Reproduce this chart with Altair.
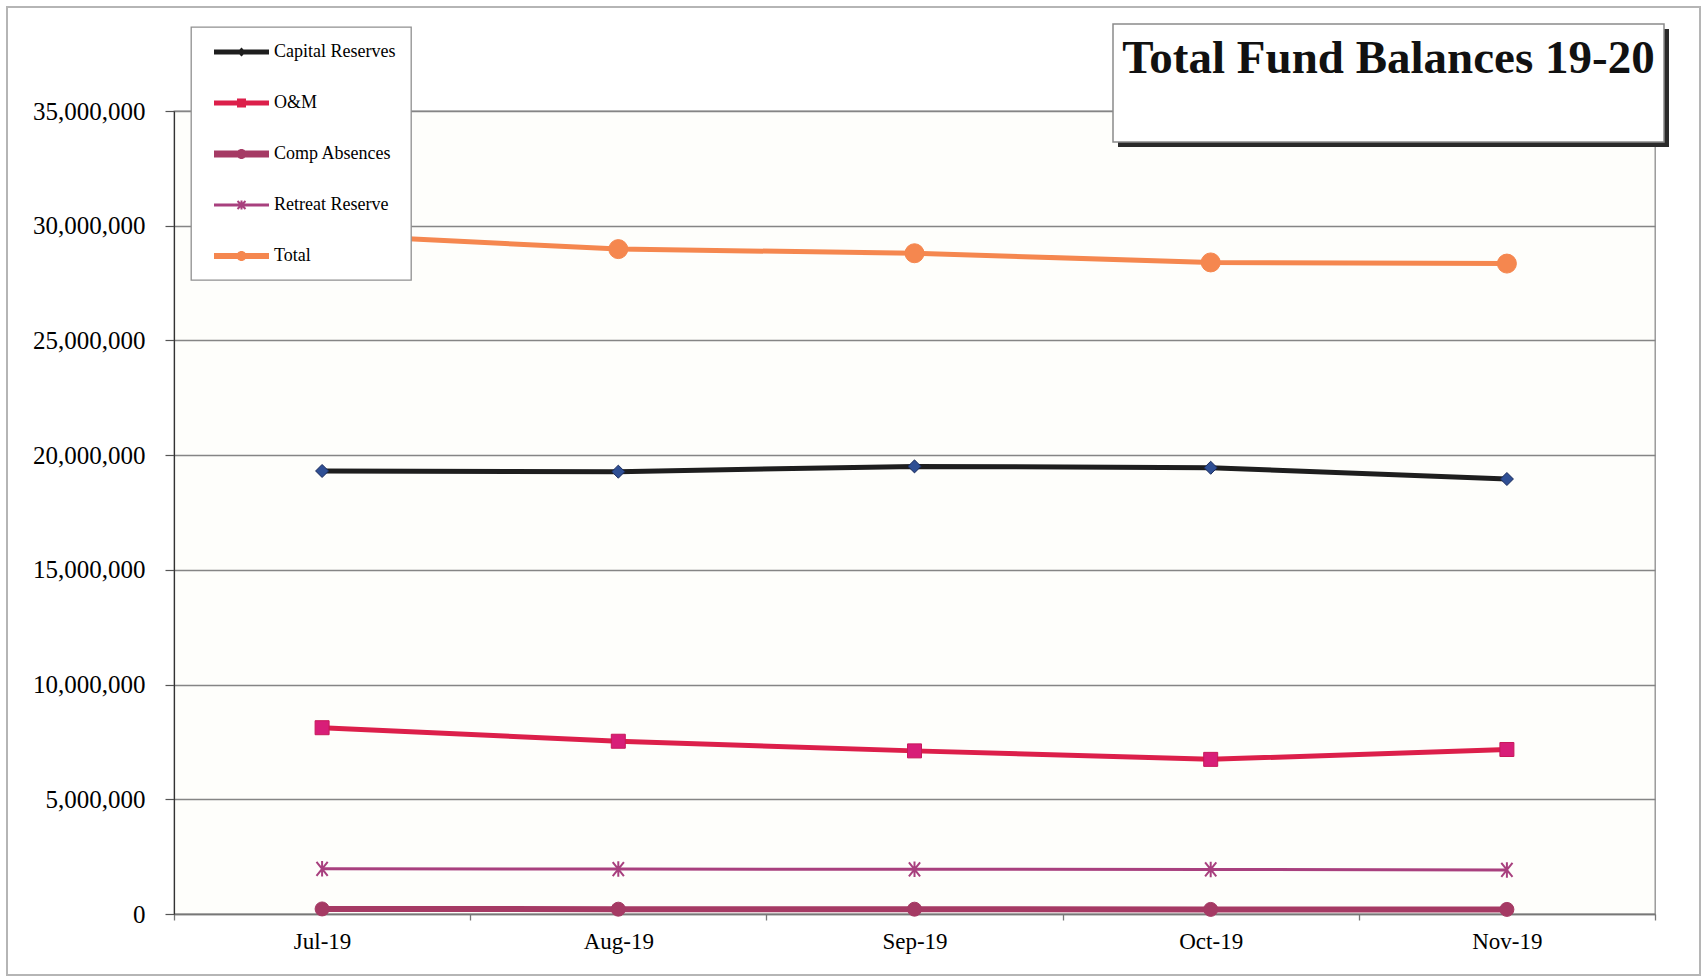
import altair as alt
import pandas as pd

# Monthly fund balances, fiscal year 2019-20
months = ["Jul-19", "Aug-19", "Sep-19", "Oct-19", "Nov-19"]
series_names = ["Capital Reserves", "O&M", "Comp Absences", "Retreat Reserve", "Total"]

capital_reserves = [19_310_000, 19_280_000, 19_510_000, 19_450_000, 18_960_000]
o_and_m = [8_120_000, 7_530_000, 7_110_000, 6_740_000, 7_170_000]
comp_absences = [220_000, 210_000, 210_000, 200_000, 200_000]
retreat_reserve = [1_970_000, 1_960_000, 1_950_000, 1_940_000, 1_920_000]
total = [29_620_000, 28_980_000, 28_800_000, 28_400_000, 28_350_000]

y_ticks = [0, 5_000_000, 10_000_000, 15_000_000, 20_000_000, 25_000_000, 30_000_000, 35_000_000]
chart_title = "Total Fund Balances 19-20"

values_by_series = [capital_reserves, o_and_m, comp_absences, retreat_reserve, total]
rows = []
for name, vals in zip(series_names, values_by_series):
    for m, v in zip(months, vals):
        rows.append({"month": m, "series": name, "value": v})
df = pd.DataFrame(rows)

# Styling per series
line_colors = ["#1E1E1E", "#DC1F4A", "#A53A64", "#A8407E", "#F5874F"]
line_widths = [5, 5, 6, 3, 5]
marker_shapes = ["diamond", "square", "circle",
                 "M-0.8,-1L0.8,1M0.8,-1L-0.8,1M0,-1.1L0,1.1", "circle"]
marker_fills = ["#2F4F94", "#D81E78", "#A53A64", "#A8407E", "#F5874F"]
marker_strokes = ["#1B2C5C", "#C8185A", "#A53A64", "#A8407E", "#F5874F"]
marker_sizes = [170, 196, 196, 196, 361]

# Legend glyphs: a line segment with the series marker in the middle
legend_glyphs = [
    "M-1,-0.25H4.5V0.25H-1Z M1.75,-0.45L2.2,0L1.75,0.45L1.3,0Z",
    "M-1,-0.25H4.5V0.25H-1Z M1.3,-0.45H2.2V0.45H1.3Z",
    "M-1,-0.35H4.5V0.35H-1Z M1.25,0A0.5,0.5 0 1,1 2.25,0A0.5,0.5 0 1,1 1.25,0Z",
    "M-1,-0.15H4.5V0.15H-1Z M1.65,-0.45H1.85V0.45H1.65Z "
    "M1.42,-0.47L2.22,0.33L2.08,0.47L1.28,-0.33Z "
    "M2.22,-0.33L1.42,0.47L1.28,0.33L2.08,-0.47Z",
    "M-1,-0.3H4.5V0.3H-1Z M1.25,0A0.5,0.5 0 1,1 2.25,0A0.5,0.5 0 1,1 1.25,0Z",
]

SERIF = "Liberation Serif"
PLOT_W, PLOT_H = 1481, 803

x_enc = alt.X(
    "month:N",
    sort=months,
    bandPosition=0.5,
    scale=alt.Scale(type="band", domain=months, paddingInner=0, paddingOuter=0),
    axis=alt.Axis(
        title=None, labelAngle=0, tickBand="extent", tickSize=6,
        labelFont=SERIF, labelFontSize=23, labelColor="#000000", labelPadding=10,
        domainColor="#777777", domainWidth=1.5, tickColor="#777777", tickWidth=1.3,
    ),
)
y_enc = alt.Y(
    "value:Q",
    scale=alt.Scale(domain=[0, 35_000_000], nice=False, zero=True),
    axis=alt.Axis(
        title=None, values=y_ticks, format=",d", tickSize=9,
        labelFont=SERIF, labelFontSize=25, labelColor="#000000", labelPadding=20,
        domainColor="#333333", domainWidth=1.2, tickColor="#555555", tickWidth=1.2,
        grid=True, gridColor="#858585", gridWidth=1.3,
    ),
)

base = alt.Chart(df)

# Outer frame of the whole chart
frame_df = pd.DataFrame({"k": [0]})
frame = alt.Chart(frame_df).mark_rect(
    fillOpacity=0, stroke="#B5B5B5", strokeWidth=2
).encode(x=alt.value(-167), x2=alt.value(1526), y=alt.value(-104), y2=alt.value(864))

layers = [frame]

for i, name in enumerate(series_names):
    layers.append(
        base.transform_filter(alt.datum.series == name)
        .mark_line(color=line_colors[i], strokeWidth=line_widths[i], strokeJoin="round")
        .encode(x=x_enc, y=y_enc)
    )

for i, name in enumerate(series_names):
    if marker_shapes[i].startswith("M"):
        mark_kwargs = dict(shape=marker_shapes[i], filled=False, color=marker_strokes[i],
                           strokeWidth=2, size=marker_sizes[i], opacity=1)
    else:
        mark_kwargs = dict(shape=marker_shapes[i], filled=True, fill=marker_fills[i],
                           stroke=marker_strokes[i], strokeWidth=1,
                           size=marker_sizes[i], opacity=1)
    layers.append(
        base.transform_filter(alt.datum.series == name)
        .mark_point(**mark_kwargs)
        .encode(x=x_enc, y=y_enc)
    )

# Legend-only layer (no visible marks; the legend is built from the scales)
legend_layer = (
    base.transform_filter("datum.value < 0")
    .mark_point(filled=True, opacity=1)
    .encode(
        x=x_enc,
        y=y_enc,
        color=alt.Color("series:N", sort=series_names, title=None,
                        scale=alt.Scale(domain=series_names, range=line_colors)),
        shape=alt.Shape("series:N", sort=series_names, title=None,
                        scale=alt.Scale(domain=series_names, range=legend_glyphs)),
    )
)
layers.append(legend_layer)

# Title box with drop shadow
title_df = pd.DataFrame({"t": [chart_title]})
shadow = alt.Chart(title_df).mark_rect(fill="#2A2A2A").encode(
    x=alt.value(944), x2=alt.value(1495), y=alt.value(-82), y2=alt.value(36)
)
box = alt.Chart(title_df).mark_rect(fill="#FFFFFF", stroke="#8A8A8A", strokeWidth=1.5).encode(
    x=alt.value(939), x2=alt.value(1490), y=alt.value(-87), y2=alt.value(31)
)
title_text = alt.Chart(title_df).mark_text(
    font=SERIF, fontSize=47, fontWeight="bold", color="#111111",
    align="center", baseline="alphabetic",
).encode(text="t:N", x=alt.value(1214.5), y=alt.value(-38))
layers += [shadow, box, title_text]

chart = (
    alt.layer(*layers)
    .properties(
        width=PLOT_W,
        height=PLOT_H,
        autosize=alt.AutoSizeParams(type="none"),
        padding={"left": 174, "top": 111, "right": 48, "bottom": 65},
        background="#FFFFFF",
    )
    .configure_view(fill="#FEFEFB", stroke="#8C8C8C", strokeWidth=1.3)
    .configure_legend(
        orient="none", legendX=17, legendY=-84, padding=15,
        fillColor="#FFFFFF", strokeColor="#909090", strokeWidth=1.3,
        symbolSize=400, symbolStrokeWidth=0, symbolOffset=8, symbolOpacity=1,
        labelOffset=40, labelFont=SERIF, labelFontSize=18, labelColor="#000000",
        labelLimit=400, rowPadding=32,
    )
)

chart.save("out.html", embed_options={"renderer": "svg", "actions": False})
